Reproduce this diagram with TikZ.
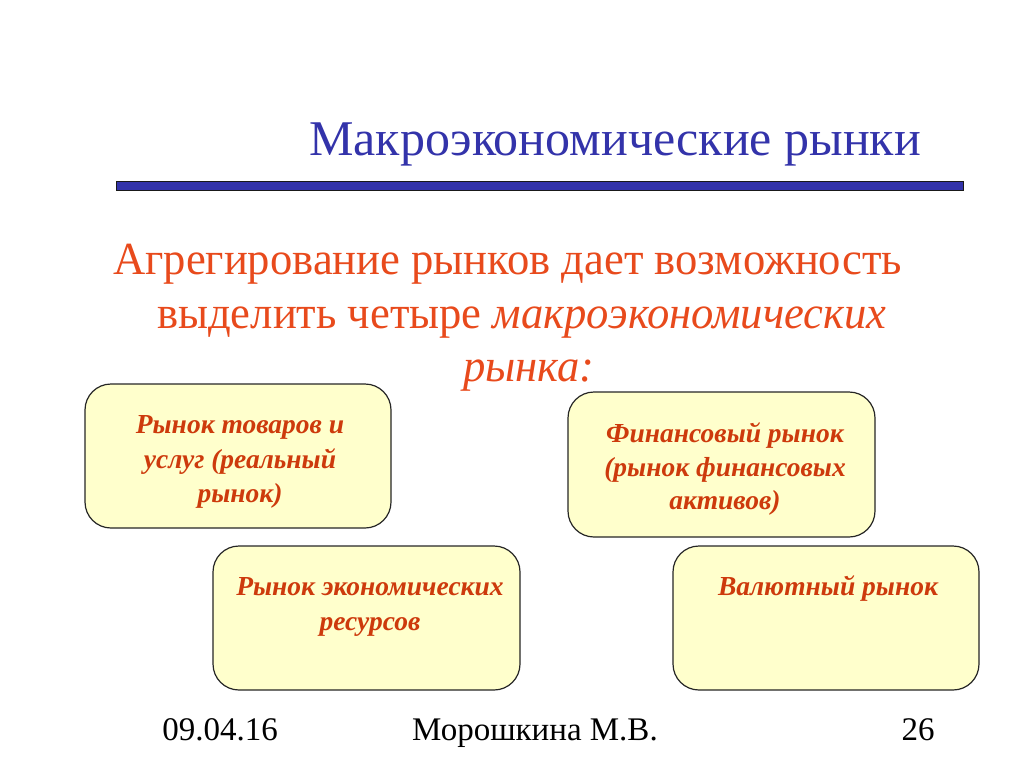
\documentclass[tikz,border=0pt]{standalone}
\usepackage{fontspec}
\setmainfont{Liberation Serif}
\newfontfamily\bodyserif{Liberation Serif}[FakeStretch=0.97]
\definecolor{titleblue}{RGB}{51,51,170}
\definecolor{barblue}{RGB}{51,51,170}
\definecolor{textred}{RGB}{232,74,28}
\definecolor{boxred}{RGB}{205,58,12}
\definecolor{boxfill}{RGB}{255,255,204}
\tikzset{
  mbox/.style={draw=black!85, line width=1.2pt, fill=boxfill, rounded corners=26pt},
  btext/.style={text=boxred, font=\fontsize{27.5}{34}\selectfont\bfseries\itshape, anchor=base, inner sep=0pt},
  body/.style={text=textred, font=\bodyserif\fontsize{46}{52}\selectfont, anchor=base west, inner sep=0pt},
  foot/.style={font=\fontsize{33}{38}\selectfont, text=black, anchor=base, inner sep=0pt}
}
\begin{document}
\begin{tikzpicture}[x=1pt,y=-1pt]
\useasboundingbox (0,0) rectangle (1024,768);
% title
\node[text=titleblue, font=\fontsize{50}{56}\selectfont, anchor=base, inner sep=0pt] (title) at (615,155) {Макроэкономические рынки};
\draw[draw=black!90, line width=0.8pt, fill=barblue] (116,181) rectangle (963,190);
% body text
\node[body] (l1) at (113,274) {Агрегирование рынков дает возможность};
\node[body] (l2) at (157,328) {выделить четыре \textit{макроэкономических}};
\node[body, font=\bodyserif\fontsize{46}{52}\selectfont\itshape] (l3) at (463,381) {рынка:};
% boxes
\draw[mbox] (85,384) rectangle (391,528);
\node[btext] (b1a) at (240,433) {Рынок товаров и};
\node[btext] (b1b) at (240,468) {услуг (реальный};
\node[btext] (b1c) at (240,502) {рынок)};
\draw[mbox] (568,392) rectangle (875,537);
\node[btext] (b2a) at (725,442) {Финансовый рынок};
\node[btext] (b2b) at (725,476) {(рынок финансовых};
\node[btext] (b2c) at (725,509) {активов)};
\draw[mbox] (213,546) rectangle (520,690);
\node[btext] (b3a) at (370,595) {Рынок экономических};
\node[btext] (b3b) at (370,630) {ресурсов};
\draw[mbox] (673,546) rectangle (979,690);
\node[btext] (b4a) at (828,595) {Валютный рынок};
% footer
\node[foot] (date) at (220,740) {09.04.16};
\node[foot] (author) at (535,740) {Морошкина М.В.};
\node[foot] (page) at (918,740) {26};
\end{tikzpicture}
\end{document}
